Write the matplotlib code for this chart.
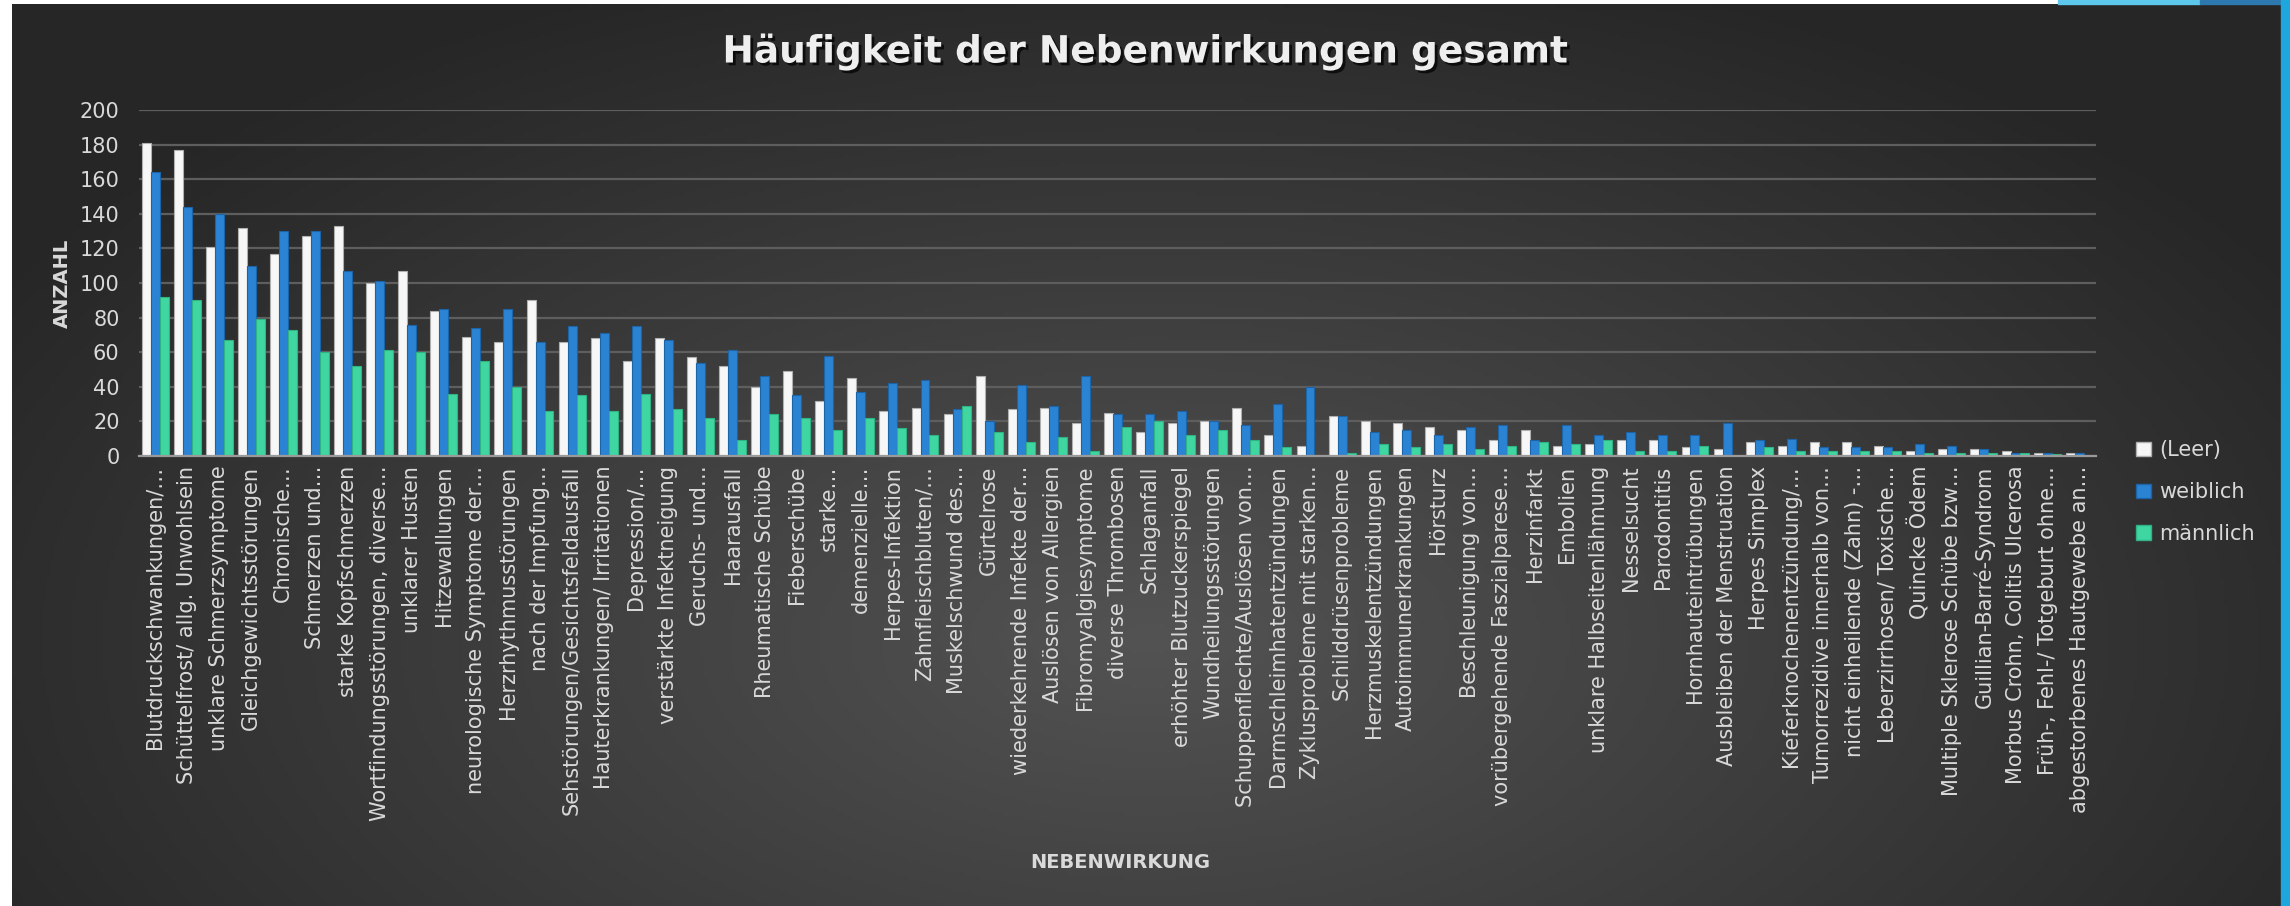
import numpy as np
import matplotlib
matplotlib.use("Agg")
import matplotlib.pyplot as plt
import matplotlib.patheffects as pe
from matplotlib.patches import Patch, Rectangle

# data
nebenwirkungen = [
    "Blutdruckschwankungen/…", "Schüttelfrost/ allg. Unwohlsein", "unklare Schmerzsymptome",
    "Gleichgewichtsstörungen", "Chronische…", "Schmerzen und…", "starke Kopfschmerzen",
    "Wortfindungsstörungen, diverse…", "unklarer Husten", "Hitzewallungen",
    "neurologische Symptome der…", "Herzrhythmusstörungen", "nach der Impfung…",
    "Sehstörungen/Gesichtsfeldausfall", "Hauterkrankungen/ Irritationen", "Depression/…",
    "verstärkte Infektneigung", "Geruchs- und…", "Haarausfall", "Rheumatische Schübe",
    "Fieberschübe", "starke…", "demenzielle…", "Herpes-Infektion", "Zahnfleischbluten/…",
    "Muskelschwund des…", "Gürtelrose", "wiederkehrende Infekte der…", "Auslösen von Allergien",
    "Fibromyalgiesymptome", "diverse Thrombosen", "Schlaganfall", "erhöhter Blutzuckerspiegel",
    "Wundheilungsstörungen", "Schuppenflechte/Auslösen von…", "Darmschleimhatentzündungen",
    "Zyklusprobleme mit starken…", "Schilddrüsenprobleme", "Herzmuskelentzündungen",
    "Autoimmunerkrankungen", "Hörsturz", "Beschleunigung von…", "vorübergehende Faszialparese…",
    "Herzinfarkt", "Embolien", "unklare Halbseitenlähmung", "Nesselsucht", "Parodontitis",
    "Hornhauteintrübungen", "Ausbleiben der Menstruation", "Herpes Simplex",
    "Kieferknochenentzündung/…", "Tumorrezidive innerhalb von…", "nicht einheilende (Zahn) -…",
    "Leberzirrhosen/ Toxische…", "Quincke Ödem", "Multiple Sklerose Schübe bzw…",
    "Guillian-Barré-Syndrom", "Morbus Crohn, Colitis Ulcerosa", "Früh-, Fehl-/ Totgeburt ohne…",
    "abgestorbenes Hautgewebe an…",
]
leer = [181, 177, 121, 132, 117, 127, 133, 100, 107, 84,
        69, 66, 90, 66, 68, 55, 68, 57, 52, 40,
        49, 32, 45, 26, 28, 24, 46, 27, 28, 19,
        25, 14, 19, 20, 28, 12, 6, 23, 20, 19,
        17, 15, 9, 15, 6, 7, 9, 9, 5, 4,
        8, 6, 8, 8, 6, 3, 4, 4, 3, 2, 2]
weiblich = [164, 144, 140, 110, 130, 130, 107, 101, 76, 85,
            74, 85, 66, 75, 71, 75, 67, 54, 61, 46,
            35, 58, 37, 42, 44, 27, 20, 41, 29, 46,
            24, 24, 26, 20, 18, 30, 40, 23, 14, 15,
            12, 17, 18, 9, 18, 12, 14, 12, 12, 19,
            9, 10, 5, 5, 5, 7, 6, 4, 2, 2, 2]
maennlich = [92, 90, 67, 79, 73, 60, 52, 61, 60, 36,
             55, 40, 26, 35, 26, 36, 27, 22, 9, 24,
             22, 15, 22, 16, 12, 29, 14, 8, 11, 3,
             17, 20, 12, 15, 9, 5, 0, 2, 7, 5,
             7, 4, 6, 8, 7, 9, 3, 3, 6, 0,
             5, 3, 3, 3, 3, 2, 2, 2, 2, 1, 0]
serien = ["(Leer)", "weiblich", "männlich"]
farben = ["#f7f7f7", "#2b83d3", "#3fd6a2"]
kanten = ["#b0b0b0", "#1c64a8", "#2fb284"]

W, H = 2290, 906
fig = plt.figure(figsize=(W / 100, H / 100), dpi=100)
fig.patch.set_facecolor("white")

# slide decoration: blue band at top right and right edge
fig.patches.append(Rectangle((2058 / W, 1 - 4 / H), 142 / W, 4 / H, transform=fig.transFigure,
                             color="#5ec8ec", zorder=0))
fig.patches.append(Rectangle((2200 / W, 1 - 4 / H), 90 / W, 4 / H, transform=fig.transFigure,
                             color="#2e78b0", zorder=0))
fig.patches.append(Rectangle((2281 / W, 0), 9 / W, 1, transform=fig.transFigure,
                             color="#1ea7dc", zorder=0))

# dark background with radial gradient
bg = fig.add_axes([12 / W, 0, (2281 - 12) / W, (H - 4) / H], zorder=-5)
gx, gy = np.meshgrid(np.linspace(12, 2281, 600), np.linspace(4, 906, 240))
t = np.sqrt(((gx - 1150) / 1350) ** 2 + ((gy - 640) / 720) ** 2)
t = np.clip(t, 0, 1)
v = (0x53 + (0x26 - 0x53) * t) / 255
bg.imshow(np.dstack([v, v, v]), aspect="auto", extent=(0, 1, 0, 1), origin="upper")
bg.axis("off")

ax = fig.add_axes([139 / W, 1 - 456 / H, (2096 - 139) / W, (456 - 110) / H])
ax.set_facecolor("none")

x = np.arange(len(nebenwirkungen))
w = 0.28
for i, (name, werte) in enumerate(zip(serien, [leer, weiblich, maennlich])):
    ax.bar(x + (i - 1) * w, werte, width=w, color=farben[i], edgecolor=kanten[i],
           linewidth=0.8, zorder=3, label=name)

ax.set_xlim(-0.5, len(nebenwirkungen) - 0.5)
ax.set_ylim(0, 200)
ax.set_yticks(range(0, 201, 20))
ax.yaxis.grid(True, color="#5e5e5e", linewidth=1.6, zorder=0)
ax.set_axisbelow(True)
for s in ["top", "right", "left"]:
    ax.spines[s].set_visible(False)
ax.spines["bottom"].set_color("#9a9a9a")
ax.spines["bottom"].set_linewidth(1.6)
ax.spines["bottom"].set_zorder(4)

txt = "#d9d9d9"
ax.set_xticks(x)
ax.set_xticklabels(nebenwirkungen, rotation=90, fontsize=15, color=txt)
ax.tick_params(axis="x", length=0, pad=7)
ax.tick_params(axis="y", length=0, pad=14, labelsize=15, labelcolor=txt)

fig.text(62 / W, 1 - 283 / H, "ANZAHL", rotation=90, ha="center", va="center",
         fontsize=14, fontweight="bold", color=txt)
fig.text(1120 / W, 1 - 862 / H, "NEBENWIRKUNG", ha="center", va="center",
         fontsize=14, fontweight="bold", color=txt)

fig.text(0.5, 1 - 52 / H, "Häufigkeit der Nebenwirkungen gesamt", ha="center", va="center",
         fontsize=27, fontweight="bold", color="#eeeeee",
         path_effects=[pe.withSimplePatchShadow(offset=(2, -2), shadow_rgbFace="black", alpha=0.7)])

handles = [Patch(facecolor=farben[i], edgecolor=kanten[i]) for i in range(3)]
fig.legend(handles, serien, loc="upper left", bbox_to_anchor=(2128 / W, 1 - 432 / H),
           frameon=False, fontsize=15, labelcolor=txt, handlelength=0.7, handleheight=0.7,
           handletextpad=0.4, labelspacing=1.05, borderaxespad=0)

fig.savefig("out.png", dpi=100, facecolor=fig.get_facecolor())
